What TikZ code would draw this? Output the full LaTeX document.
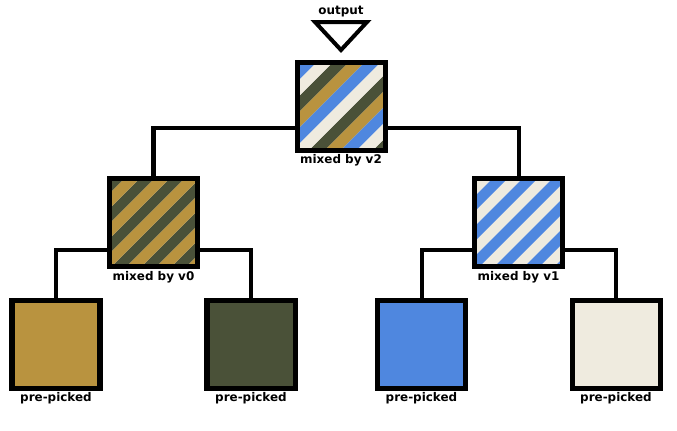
\documentclass[tikz,border=0pt]{standalone}
\usepackage{fontspec}
\setsansfont{DejaVu Sans}
\usetikzlibrary{calc}

\definecolor{gld}{HTML}{B9933F}
\definecolor{dkg}{HTML}{4A5138}
\definecolor{blu}{HTML}{4F87DF}
\definecolor{crm}{HTML}{EFEBDF}

\begin{document}
\begin{tikzpicture}[x=0.025cm, y=-0.025cm,
  box/.style={draw=black, line width=3.56pt, minimum size=88*0.025cm, inner sep=0pt, outer sep=0pt},
  lbl/.style={font=\sffamily\bfseries\fontsize{8.5}{10}\selectfont, inner sep=0pt},
  every label/.style={lbl},
  label distance=3pt,
  wire/.style={draw=black, line width=2.85pt},
  % colours, how many, band width, start
  mix/.style n args={4}{path picture={
    \foreach \col [count=\i from 0] in {#1}
      \foreach \r in {0,...,6}
        \fill[\col] ([shift={(#4+\i*#3+\r*#2*#3,0)}]path picture bounding box.north west)
          -- ++(#3,0) -- ++(-130,130) -- ++(-#3,0) -- cycle;
  }}]
\useasboundingbox (0,0) rectangle (677,430);

% output marker
\node[lbl] (outlbl) at (341,11.5) {output};
\coordinate (tip) at (341,50);
\draw[line width=2.85pt] (tip) -- ++(-26,-28) -- ++(52,0) -- cycle;

% mixed boxes
\node[box, mix={dkg,gld,blu,crm}{4}{16}{-28}, label=below:mixed by v2] (v2) at (341,106) {};
\node[box, mix={dkg,gld}{2}{15}{-30}, label=below:mixed by v0] (v0) at (153.5,222.5) {};
\node[box, mix={crm,blu}{2}{15}{-27}, label=below:mixed by v1] (v1) at (518.5,222.5) {};

% pre-picked colours
\node[box, fill=gld, label=below:pre-picked] (p0) at (56,344) {};
\node[box, fill=dkg, label=below:pre-picked] (p1) at (251,344) {};
\node[box, fill=blu, label=below:pre-picked] (p2) at (421.5,344) {};
\node[box, fill=crm, label=below:pre-picked] (p3) at (616,344) {};

\draw[wire] ([shift={(0,22)}]v2.west) -| (v0.north);
\draw[wire] ([shift={(0,22)}]v2.east) -| (v1.north);
\draw[wire] ([shift={(0,27.5)}]v0.west) -| (p0.north);
\draw[wire] ([shift={(0,27.5)}]v0.east) -| (p1.north);
\draw[wire] ([shift={(0,27.5)}]v1.west) -| (p2.north);
\draw[wire] ([shift={(0,27.5)}]v1.east) -| (p3.north);
\end{tikzpicture}
\end{document}
